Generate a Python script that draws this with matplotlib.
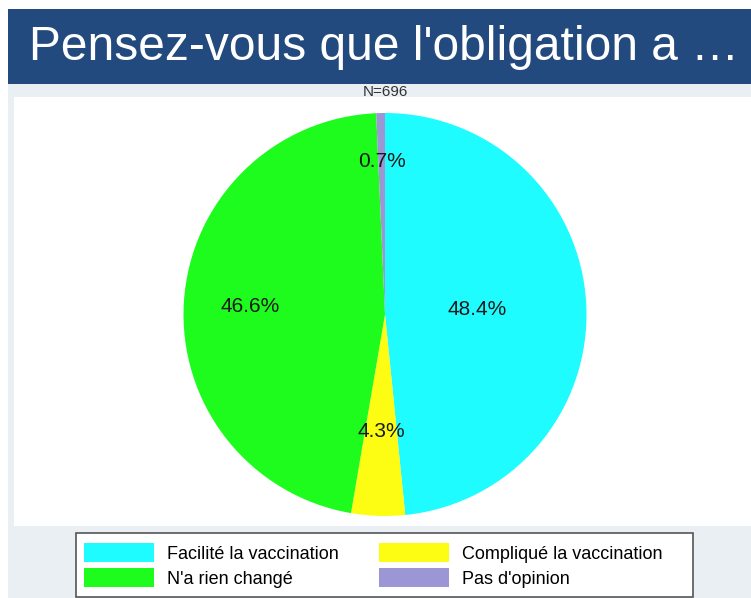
import matplotlib
matplotlib.use("Agg")
import matplotlib.pyplot as plt
from matplotlib.patches import Rectangle, Patch
import numpy as np

plt.rcParams['font.family'] = ['Liberation Sans', 'DejaVu Sans']
NARROW = ['Liberation Sans Narrow', 'Liberation Sans', 'DejaVu Sans']

title = "Pensez-vous que l'obligation a …"
subtitle = "N=696"
categories = ["Facilité la vaccination", "Compliqué la vaccination", "N'a rien changé", "Pas d'opinion"]
values = [48.4, 4.3, 46.6, 0.7]
colors = ["#1ffcff", "#fdfd14", "#1efc1e", "#9c97d4"]
label_radius = [0.46, 0.58, 0.67, 0.76]

W, H = 751, 598
fig = plt.figure(figsize=(W / 100, H / 100), dpi=100)
fig.patch.set_facecolor("white")

def rect(x0, y0, x1, y1, color, z=-5, ec="none", lw=0):
    fig.patches.append(Rectangle((x0 / W, 1 - y1 / H), (x1 - x0) / W, (y1 - y0) / H,
                                 transform=fig.transFigure, facecolor=color,
                                 edgecolor=ec, linewidth=lw, zorder=z))

# background panels
rect(8, 84, W, H, "#e9eff3", z=-5)
rect(14, 97, W, 526, "white", z=-4)
rect(8, 9, W, 84, "#234a7e", z=-4)
# legend box
rect(76, 533, 693, 597, "white", z=-3, ec="#555555", lw=1.2)

fig.text(29 / W, 1 - 47 / H, title, color="white", fontsize=34.5, va="center", ha="left")
fig.text(385 / W, 1 - 91.5 / H, subtitle, color="#333333", fontsize=11, va="center",
         ha="center", family=NARROW)

# pie axes
cx, cy, r = 385, 314.5, 201.5
ax = fig.add_axes([(cx - r) / W, 1 - (cy + r) / H, 2 * r / W, 2 * r / H])
wedges, _ = ax.pie(values, colors=colors, startangle=90, counterclock=False, radius=1,
                   wedgeprops=dict(linewidth=0))
ax.set_xlim(-1, 1)
ax.set_ylim(-1, 1)
ax.set_aspect("equal")
ax.axis("off")

for w, v, lr in zip(wedges, values, label_radius):
    ang = np.deg2rad((w.theta1 + w.theta2) / 2)
    ax.text(lr * np.cos(ang), lr * np.sin(ang), f"{v:.1f}%", ha="center", va="center",
            fontsize=15, color="#1a1a1a", family=NARROW)

# legend
order = [0, 2, 1, 3]
handles = [Patch(facecolor=colors[i], edgecolor="none", label=categories[i]) for i in order]
leg = fig.legend(handles=handles, ncol=2, loc="upper left",
                 bbox_to_anchor=(74 / W, 1 - 533 / H),
                 fontsize=13, handlelength=3.9, handleheight=1.25,
                 handletextpad=0.72, labelspacing=0.3, borderpad=0.55,
                 columnspacing=2.2, borderaxespad=0, frameon=False)

fig.savefig("out.png", dpi=100, facecolor=fig.get_facecolor())
